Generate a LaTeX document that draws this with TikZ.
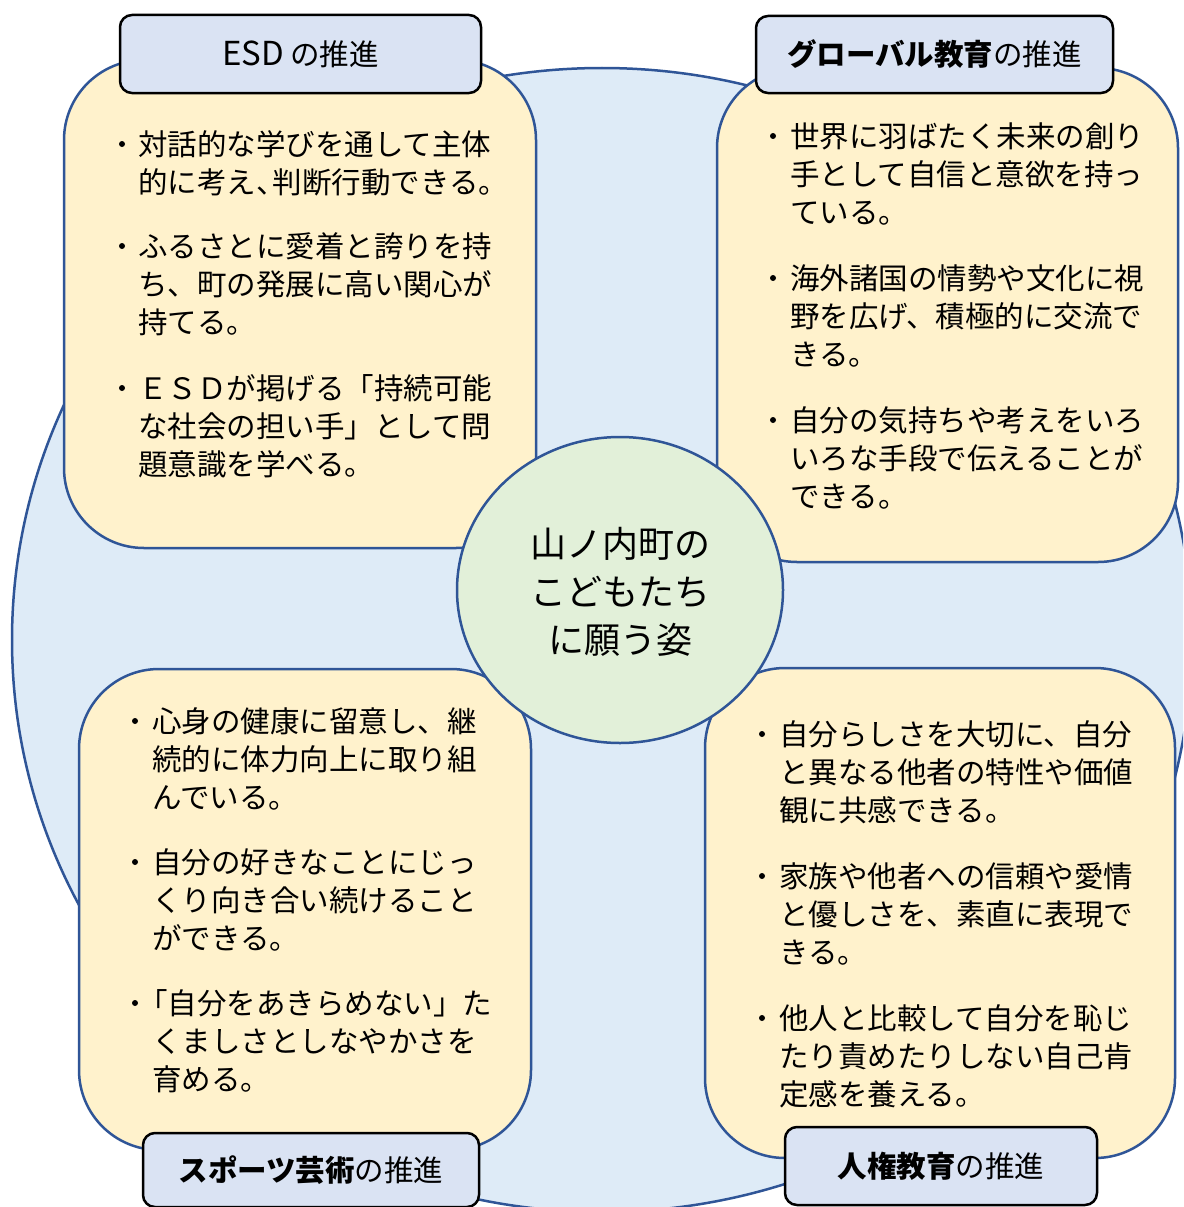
\documentclass[tikz,border=0pt]{standalone}
\usepackage{fontspec}
\newfontfamily\jp{Noto Sans CJK JP}
\usetikzlibrary{shapes.geometric}
\definecolor{bigblue}{HTML}{DEEBF7}
\definecolor{edgeblue}{HTML}{2F5597}
\definecolor{boxyellow}{HTML}{FFF2CC}
\definecolor{hdrblue}{HTML}{DAE3F3}
\definecolor{ctrgreen}{HTML}{E2F0D9}
\newcommand\para[5]{%
  \node[dot] (#1d) at (#2,#4) {};
  \foreach \t [count=\i from 0] in {#5}{\node[ln] (#1-\i) at (#3,#4+38*\i) {\t};}%
}
\begin{document}
\begin{tikzpicture}[x=1pt,y=-1pt,
  ybox/.style={draw=edgeblue,line width=2.5pt,fill=boxyellow,rounded corners=80pt,inner sep=0pt},
  hdr/.style={draw=black,line width=2.5pt,fill=hdrblue,rounded corners=12pt,inner sep=0pt,
    font=\jp\fontsize{29.5}{36}\selectfont},
  ln/.style={anchor=west,inner sep=0pt,text height=26pt,text depth=3.5pt,
    font=\jp\fontsize{29.5}{38}\selectfont},
  dot/.style={circle,fill=black,inner sep=0pt,minimum size=6pt},
]
\useasboundingbox (0,0) rectangle (1183,1207);
\clip (0,0) rectangle (1183,1207);
\fill[white] (0,0) rectangle (1183,1207);
% big background ellipse
\node[ellipse,draw=edgeblue,line width=2.5pt,fill=bigblue,minimum width=1180pt,minimum height=1144pt,inner sep=0pt] (bg) at (602,640) {};
% yellow boxes
\node[ybox,minimum width=472pt,minimum height=488pt] (btl) at (300,304) {};
\node[ybox,minimum width=461pt,minimum height=494pt] (btr) at (947.5,315) {};
\node[ybox,minimum width=452pt,minimum height=481pt] (bbl) at (305,909.5) {};
\node[ybox,minimum width=470pt,minimum height=490pt] (bbr) at (940,913) {};
% headers
\node[hdr,minimum width=361pt,minimum height=78pt] (htl) at (300.5,54) {{\fontsize{33}{36}\selectfont ESD} の推進};
\node[hdr,minimum width=357pt,minimum height=77pt] (htr) at (934.5,54.5) {{\bfseries グローバル教育}の推進};
\node[hdr,minimum width=336pt,minimum height=74pt] (hbl) at (311,1170) {{\bfseries スポーツ芸術}の推進};
\node[hdr,minimum width=312pt,minimum height=78pt] (hbr) at (941,1166) {{\bfseries 人権教育}の推進};
% centre
\node[ellipse,draw=edgeblue,line width=2.5pt,fill=ctrgreen,minimum width=326pt,minimum height=306pt,inner sep=0pt] (ctr) at (620,590) {};
\node[align=center,inner sep=0pt,font=\jp\fontsize{36}{48}\selectfont] (ctrt) at (620,592) {山ノ内町の\\こどもたち\\に願う姿};
% top-left texts
\para{a1}{122}{138}{144}{対話的な学びを通して主体,的に考え、\kern-13pt判断行動できる。}
\para{a2}{122}{138}{246}{ふるさとに愛着と誇りを持,ち、町の発展に高い関心が,持てる。}
\para{a3}{122}{138}{388}{ＥＳＤが掲げる「持続可能,な社会の担い手」として問,題意識を学べる。}
% top-right texts
\para{b1}{773}{790}{136}{世界に羽ばたく未来の創り,手として自信と意欲を持っ,ている。}
\para{b2}{773}{790}{278}{海外諸国の情勢や文化に視,野を広げ、積極的に交流で,きる。}
\para{b3}{773}{790}{420}{自分の気持ちや考えをいろ,いろな手段で伝えることが,できる。}
% bottom-left texts
\para{c1}{135}{152}{721}{心身の健康に留意し、継,続的に体力向上に取り組,んでいる。}
\para{c2}{135}{152}{862}{自分の好きなことにじっ,くり向き合い続けること,ができる。}
\node[dot] (c3d) at (135,1003) {};
\node[ln] (c3-0) at (138,1003) {「自分をあきらめない」た};
\node[ln] (c3-1) at (152,1041) {くましさとしなやかさを};
\node[ln] (c3-2) at (152,1079) {育める。};
% bottom-right texts
\para{d1}{762}{779}{734}{自分らしさを大切に、自分,と異なる他者の特性や価値,観に共感できる。}
\para{d2}{762}{779}{876}{家族や他者への信頼や愛情,と優しさを、素直に表現で,きる。}
\para{d3}{762}{779}{1018}{他人と比較して自分を恥じ,たり責めたりしない自己肯,定感を養える。}
\end{tikzpicture}
\end{document}
